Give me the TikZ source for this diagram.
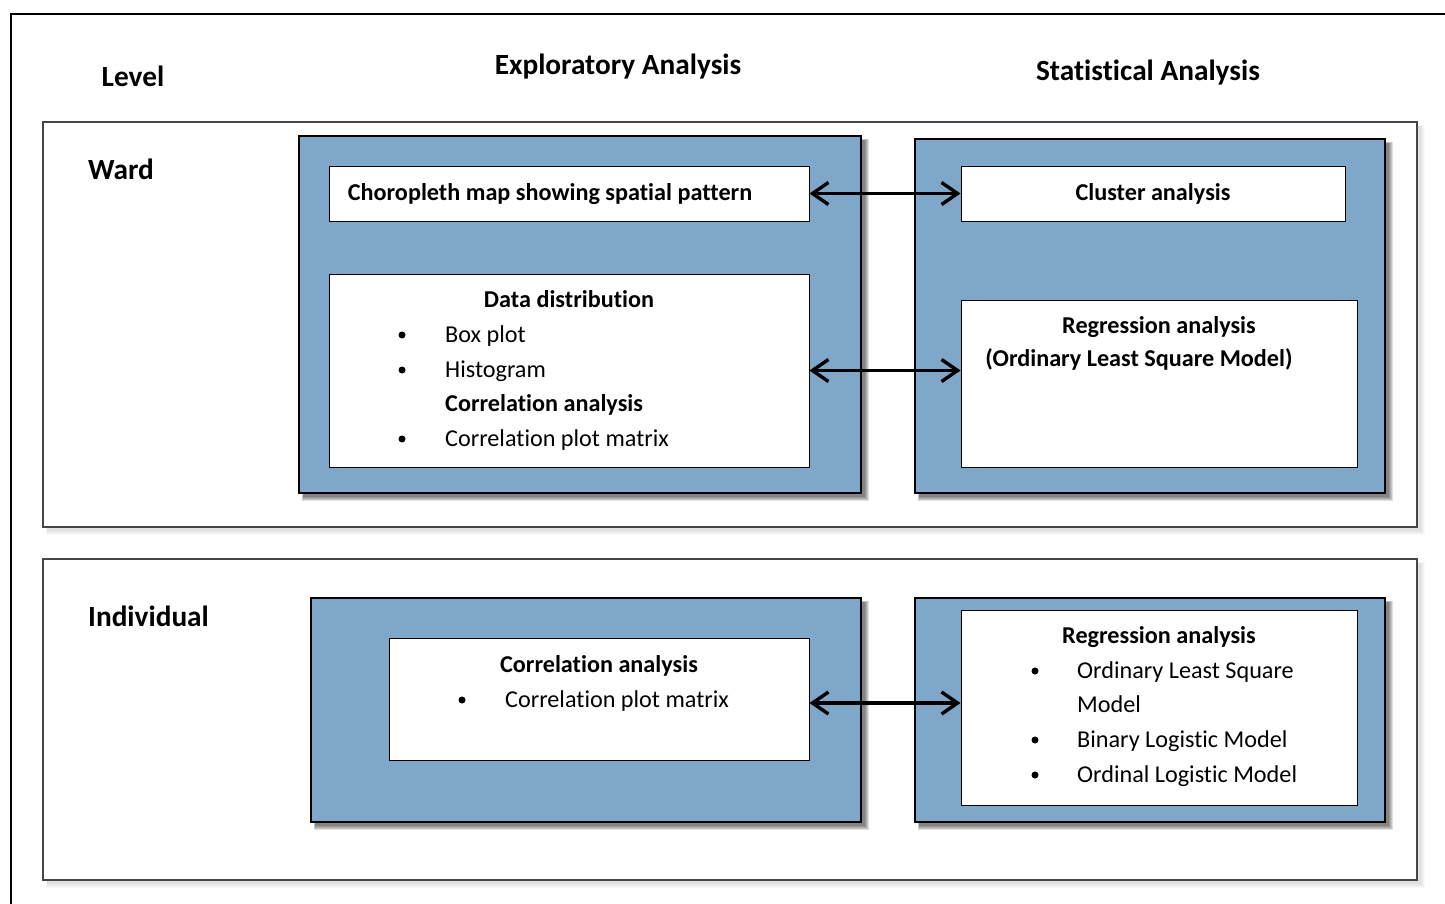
\documentclass[tikz,border=0pt]{standalone}
\usepackage{fontspec}
\setmainfont{Carlito}[RawFeature={-liga;-clig;-calt;-dlig}]
\usetikzlibrary{arrows.meta,calc}
\definecolor{panelblue}{RGB}{126,167,202}
\definecolor{panelrule}{RGB}{70,70,70}
\tikzset{
  panel/.style={draw=panelrule, line width=1.3pt, fill=white, inner sep=0pt},
  bluebox/.style={draw=black, line width=1.3pt, fill=panelblue, inner sep=0pt},
  whitebox/.style={draw=black, line width=0.9pt, fill=white, inner sep=0pt},
  head/.style={font=\fontsize{29.3}{33}\selectfont\bfseries, inner sep=0pt},
  txt/.style={font=\fontsize{24.2}{29}\selectfont, inner sep=0pt, anchor=base west},
  btxt/.style={font=\fontsize{24.2}{29}\selectfont\bfseries, inner sep=0pt, anchor=base},
  dot/.style={circle, fill=black, inner sep=0pt, minimum size=7pt},
  link/.style={line width=3.4pt, {Straight Barb[length=16pt,width=22pt]}-{Straight Barb[length=16pt,width=22pt]}},
}
% soft drop shadow: a few stacked translucent rectangles
\newcommand{\softshadow}[5]{%
  \foreach \k in {0,...,4}{%
    \fill[black, opacity=#5] ($(#1,#2)+(4-\k,4-\k)+(\k*0.8,\k*0.8)$) rectangle ($(#3,#4)+(4+\k,4+\k)$);
  }%
}
\begin{document}
\begin{tikzpicture}[x=1pt, y=-1pt]
\useasboundingbox (0,0) rectangle (1445,903);
\fill[white] (0,0) rectangle (1445,903);

% outer frame, open to the right and bottom
\draw[line width=2pt] (11,910) -- (11,14) -- (1450,14);

% column and row headings
\node[head] (hlevel) at (133,76) {Level};
\node[head] (hexp) at (618,67) {Exploratory Analysis};
\node[head] (hstat) at (1148,73) {Statistical Analysis};

% the two level panels
\softshadow{43}{122}{1417}{527}{0.025}
\node[panel, minimum width=1374pt, minimum height=405pt] (ward) at (730,324.5) {};
\softshadow{43}{559}{1417}{880}{0.025}
\node[panel, minimum width=1374pt, minimum height=321pt] (indiv) at (730,719.5) {};
\node[head, anchor=west] (lward) at (88,169) {Ward};
\node[head, anchor=west] (lindiv) at (88,616) {Individual};

% blue analysis blocks
\softshadow{299}{136}{861}{493}{0.12}
\node[bluebox, minimum width=562pt, minimum height=357pt] (expW) at (580,314.5) {};
\softshadow{915}{139}{1385}{493}{0.12}
\node[bluebox, minimum width=470pt, minimum height=354pt] (statW) at (1150,316) {};
\softshadow{311}{598}{861}{822}{0.12}
\node[bluebox, minimum width=550pt, minimum height=224pt] (expI) at (586,710) {};
\softshadow{915}{598}{1385}{822}{0.12}
\node[bluebox, minimum width=470pt, minimum height=224pt] (statI) at (1150,710) {};

% white content boxes
\node[whitebox, minimum width=480pt, minimum height=55pt] (choro) at (569,193.5) {};
\node[whitebox, minimum width=480pt, minimum height=193pt] (dist) at (569,370.5) {};
\node[whitebox, minimum width=384pt, minimum height=55pt] (clus) at (1153,193.5) {};
\node[whitebox, minimum width=396pt, minimum height=167pt] (regW) at (1159,383.5) {};
\node[whitebox, minimum width=420pt, minimum height=122pt] (corrI) at (599,699) {};
\node[whitebox, minimum width=396pt, minimum height=195pt] (regI) at (1159,707.5) {};

% Ward, exploratory
\node[btxt] (tchoro) at (550,200) {Choropleth map showing spatial pattern};
\node[btxt] (tdist) at (569,307) {Data distribution};
\node[dot] (d1) at (402,335) {};
\node[txt] (tbox) at (445,342.5) {Box plot};
\node[dot] (d2) at (402,370) {};
\node[txt] (thist) at (445,377.5) {Histogram};
\node[btxt, anchor=base west] (tcorr) at (445,411.5) {Correlation analysis};
\node[dot] (d3) at (402,439) {};
\node[txt] (tcpm) at (445,446.5) {Correlation plot matrix};

% Ward, statistical
\node[btxt] (tclus) at (1153,200) {Cluster analysis};
\node[btxt] (treg) at (1159,333.5) {Regression analysis};
\node[btxt] (tols) at (1139,366.5) {(Ordinary Least Square Model)};

% Individual, exploratory
\node[btxt] (tcorrI) at (599,672.5) {Correlation analysis};
\node[dot] (d4) at (462,700) {};
\node[txt] (tcpmI) at (505,707.5) {Correlation plot matrix};

% Individual, statistical
\node[btxt] (tregI) at (1159,643.5) {Regression analysis};
\node[dot] (d5) at (1035,671) {};
\node[txt] (tolsI) at (1077,678.5) {Ordinary Least Square};
\node[txt] (tmodel) at (1077,712.5) {Model};
\node[dot] (d6) at (1035,740) {};
\node[txt] (tbin) at (1077,747.5) {Binary Logistic Model};
\node[dot] (d7) at (1035,775) {};
\node[txt] (tord) at (1077,782.5) {Ordinal Logistic Model};

% links between the two analysis columns
\draw[link] (choro.east) -- (clus.west);
\draw[link] (dist.east) -- (dist.east -| regW.west);
\draw[link] ([yshift=-4pt]corrI.east) -- ([yshift=-4pt]corrI.east -| regI.west);
\end{tikzpicture}
\end{document}
